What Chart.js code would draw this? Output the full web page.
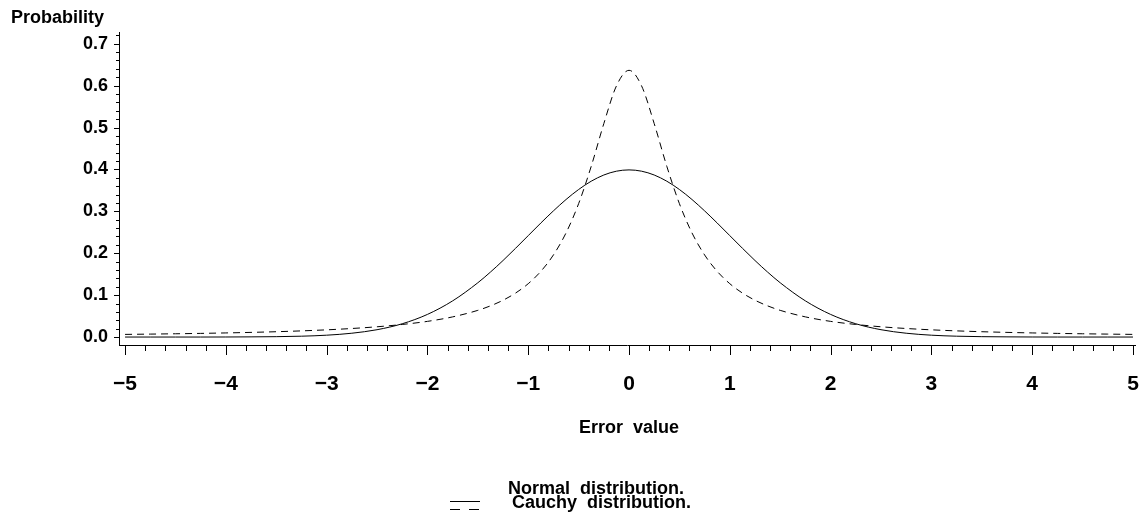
<!DOCTYPE html>
<html>
<head>
<meta charset="utf-8">
<title>Normal vs Cauchy</title>
<script src="https://cdn.jsdelivr.net/npm/chart.js@4/dist/chart.umd.min.js"></script>
<style>
    html, body { margin: 0; padding: 0; background: #fff; }
    #wrap { width: 1141px; height: 531px; }
</style>
</head>
<body>
<div id="wrap"><canvas id="pdf-chart" width="1141" height="531"></canvas></div>
<script>
// error values (x) shared by both curves
const errorValues = [
    -5, -4.75, -4.5, -4.25, -4, -3.75, -3.5, -3.25, -3, -2.75, -2.5, -2.25, -2, -1.75, -1.5,
    -1.375, -1.25, -1.125, -1, -0.875, -0.75, -0.625, -0.5, -0.375, -0.25, -0.125, 0,
    0.125, 0.25, 0.375, 0.5, 0.625, 0.75, 0.875, 1, 1.125, 1.25, 1.375,
    1.5, 1.75, 2, 2.25, 2.5, 2.75, 3, 3.25, 3.5, 3.75, 4, 4.25, 4.5, 4.75, 5
];
const normalValues = [
    0.0000, 0.0000, 0.0000, 0.0000, 0.0001, 0.0004, 0.0009, 0.0020, 0.0044, 0.0091, 0.0175, 0.0317, 0.0540, 0.0863, 0.1295,
    0.1550, 0.1826, 0.2119, 0.2420, 0.2721, 0.3011, 0.3282, 0.3521, 0.3719, 0.3867, 0.3958, 0.3989,
    0.3958, 0.3867, 0.3719, 0.3521, 0.3282, 0.3011, 0.2721, 0.2420, 0.2119, 0.1826, 0.1550,
    0.1295, 0.0863, 0.0540, 0.0317, 0.0175, 0.0091, 0.0044, 0.0020, 0.0009, 0.0004, 0.0001, 0.0000, 0.0000, 0.0000, 0.0000
];
const cauchyValues = [
    0.0063, 0.0070, 0.0078, 0.0087, 0.0098, 0.0111, 0.0127, 0.0147, 0.0172, 0.0204, 0.0245, 0.0300, 0.0374, 0.0481, 0.0637,
    0.0744, 0.0878, 0.1050, 0.1273, 0.1567, 0.1959, 0.2484, 0.3183, 0.4074, 0.5093, 0.5992, 0.6366,
    0.5992, 0.5093, 0.4074, 0.3183, 0.2484, 0.1959, 0.1567, 0.1273, 0.1050, 0.0878, 0.0744,
    0.0637, 0.0481, 0.0374, 0.0300, 0.0245, 0.0204, 0.0172, 0.0147, 0.0127, 0.0111, 0.0098, 0.0087, 0.0078, 0.0070, 0.0063
];
const xTicks = [-5, -4, -3, -2, -1, 0, 1, 2, 3, 4, 5];
const yTicks = [0, 0.1, 0.2, 0.3, 0.4, 0.5, 0.6, 0.7];
const legendLabels = ['Normal  distribution.', 'Cauchy  distribution.'];

const FONT = '"Liberation Sans", Arial, Helvetica, sans-serif';

function toPoints(ys) {
    return errorValues.map((x, i) => ({ x: x, y: ys[i] }));
}

// SAS-style tick marks (major + minor), axis labels and the legend below
const sasDecor = {
    id: 'sasDecor',
    afterDraw(chart) {
        const c = chart.ctx;
        const xs = chart.scales.x;
        const ys = chart.scales.y;
        const area = chart.chartArea;
        c.save();
        c.strokeStyle = '#000';
        c.lineWidth = 1;
        c.beginPath();
        // x ticks every 0.2, major on integers
        for (let i = -25; i <= 25; i++) {
            const px = Math.round(xs.getPixelForValue(i / 5)) + 0.5;
            const len = (i % 5 === 0) ? 10 : 6;
            c.moveTo(px, area.bottom);
            c.lineTo(px, area.bottom + len);
        }
        // y ticks every 0.02, major every 0.1
        for (let j = -0; j <= 36; j++) {
            const py = Math.round(ys.getPixelForValue(j / 50)) + 0.5;
            const len = (j % 5 === 0) ? 5 : 3;
            c.moveTo(area.left, py);
            c.lineTo(area.left - len, py);
        }
        c.stroke();

        c.fillStyle = '#000';
        c.font = 'bold 18px ' + FONT;
        c.textBaseline = 'middle';
        c.textAlign = 'left';
        c.fillText('Probability', 11, 18);

        c.textAlign = 'center';
        c.fillText('Error  value', xs.getPixelForValue(0), 428);

        // legend
        c.font = 'bold 18px ' + FONT;
        c.textAlign = 'left';
        c.fillText(legendLabels[0], 508, 489);
        c.fillText(legendLabels[1], 512, 503);
        c.beginPath();
        c.moveTo(450, 501.5);
        c.lineTo(480, 501.5);
        c.stroke();
        c.setLineDash([10, 9]);
        c.beginPath();
        c.moveTo(450, 509.5);
        c.lineTo(480, 509.5);
        c.stroke();
        c.restore();
    }
};

new Chart(document.getElementById('pdf-chart'), {
    type: 'line',
    data: {
        datasets: [
            {
                label: 'Normal distribution.',
                data: toPoints(normalValues),
                borderColor: '#000',
                borderWidth: 1,
                pointRadius: 0,
                cubicInterpolationMode: 'monotone',
                fill: false
            },
            {
                label: 'Cauchy distribution.',
                data: toPoints(cauchyValues),
                borderColor: '#000',
                borderWidth: 1,
                borderDash: [7, 5],
                pointRadius: 0,
                cubicInterpolationMode: 'monotone',
                fill: false
            }
        ]
    },
    options: {
        responsive: false,
        animation: false,
        devicePixelRatio: 1,
        layout: { padding: { left: 0, top: 32, right: 6, bottom: 0 } },
        plugins: {
            legend: { display: false },
            title: { display: false },
            tooltip: { enabled: false }
        },
        scales: {
            x: {
                type: 'linear',
                min: -5.06,
                max: 5.02,
                afterBuildTicks: s => { s.ticks = xTicks.map(v => ({ value: v })); },
                afterFit: s => {
                    s.height = 531 - 345;
                    s.paddingLeft = 0;
                    s.paddingRight = 0;
                },
                grid: { display: false, drawTicks: false },
                border: { display: true, color: '#000', width: 1 },
                ticks: {
                    padding: 27,
                    maxRotation: 0,
                    autoSkip: false,
                    color: '#000',
                    font: { family: FONT, size: 21, weight: 'bold' },
                    callback: v => (v < 0 ? '\u2212' + Math.abs(v) : String(v))
                }
            },
            y: {
                type: 'linear',
                min: -0.019,
                max: 0.728,
                afterBuildTicks: s => { s.ticks = yTicks.map(v => ({ value: v })); },
                afterFit: s => {
                    s.width = 119;
                    s.paddingTop = 0;
                    s.paddingBottom = 0;
                },
                grid: { display: false, drawTicks: false },
                border: { display: true, color: '#000', width: 1 },
                ticks: {
                    padding: 11,
                    autoSkip: false,
                    color: '#000',
                    font: { family: FONT, size: 18, weight: 'bold' },
                    callback: v => v.toFixed(1)
                }
            }
        }
    },
    plugins: [sasDecor]
});
</script>
</body>
</html>
